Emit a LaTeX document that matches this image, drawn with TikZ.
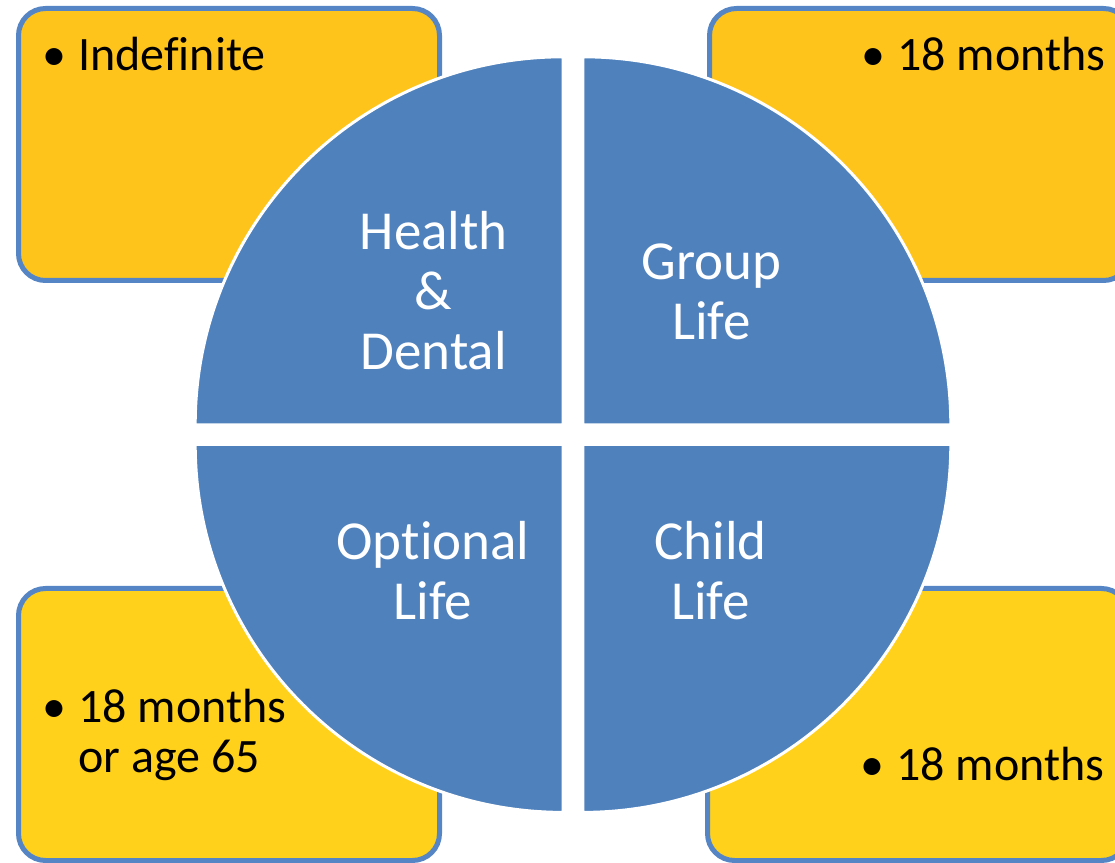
\documentclass[tikz,border=0pt]{standalone}
\usepackage{fontspec}
\setmainfont{Carlito}[Ligatures=NoCommon]
\definecolor{quadblue}{HTML}{4F81BD}
\definecolor{boxline}{HTML}{5585C5}
\definecolor{goldtop}{HTML}{FFC41B}
\definecolor{goldbot}{HTML}{FFD11B}
\tikzset{
  infobox/.style={draw=boxline, line width=5pt, rounded corners=27pt},
  quad/.style={fill=quadblue, draw=white, line width=3pt},
  quadtext/.style={text=white, inner sep=0pt, anchor=base, align=center,
    font=\fontsize{55}{60}\selectfont},
  boxtext/.style={text=black, inner sep=0pt, anchor=base west, align=left,
    font=\fontsize{48}{50}\selectfont},
}
\newcommand{\bul}{\llap{\textbullet\hspace{12pt}}}
\begin{document}
\begin{tikzpicture}[x=1pt,y=1pt]
  \useasboundingbox (0,0) rectangle (1115,862);
  \clip (0,0) rectangle (1115,862);

  % four corner boxes
  \path[infobox, fill=goldtop] (18.5,581.5) rectangle (439.5,853.5);
  \path[infobox, fill=goldtop] (709.5,581.5) rectangle (1130.5,853.5);
  \path[infobox, fill=goldbot] (18.5,1.5) rectangle (439.5,273.5);
  \path[infobox, fill=goldbot] (707.5,1.5) rectangle (1128.5,273.5);

  % box texts (base anchor sits on the last line)
  \node[boxtext] (tl) at (78,791) {\bul Indefinite};
  \node[boxtext] (tr) at (897,791) {\bul 18 months};
  \node[boxtext] (bl) at (78,90) {\bul 18 months\\or age 65};
  \node[boxtext] (br) at (896,82) {\bul 18 months};

  % quartered disc
  \path[quad] (563.2,437.2) -- ++(-368,0) arc[start angle=180, end angle=90, radius=368pt] -- cycle;
  \path[quad] (582.8,437.2) -- ++(0,368) arc[start angle=90, end angle=0, radius=368pt] -- cycle;
  \path[quad] (582.8,417.6) -- ++(368,0) arc[start angle=0, end angle=-90, radius=368pt] -- cycle;
  \path[quad] (563.2,417.6) -- ++(0,-368) arc[start angle=270, end angle=180, radius=368pt] -- cycle;

  % quadrant labels
  \node[quadtext] (hd) at (433.7,492) {Health\\\&\\Dental};
  \node[quadtext] (gl) at (711.5,522) {Group\\Life};
  \node[quadtext] (ol) at (433,242) {Optional\\Life};
  \node[quadtext] (cl) at (710.5,242) {Child\\Life};
\end{tikzpicture}
\end{document}
